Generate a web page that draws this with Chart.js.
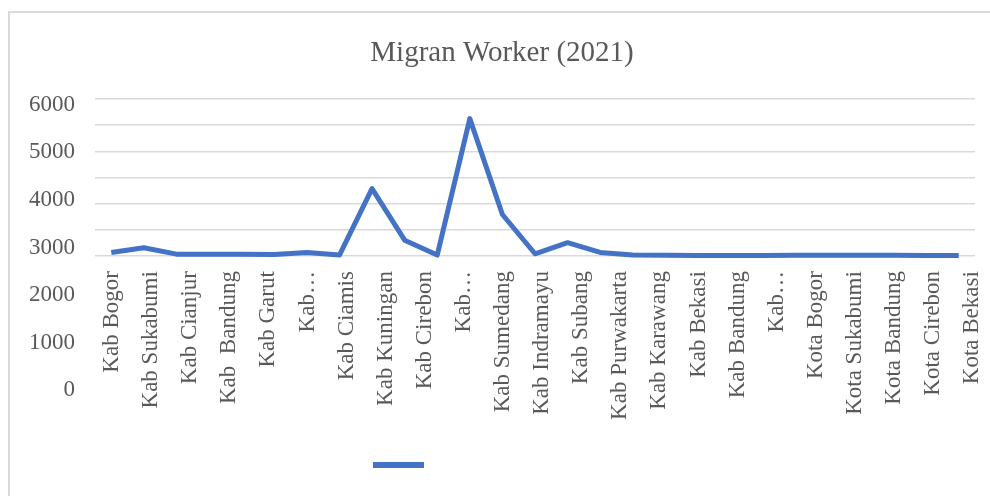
<!DOCTYPE html>
<html>
<head>
<meta charset="utf-8">
<title>Migran Worker (2021)</title>
<script src="https://cdn.jsdelivr.net/npm/chart.js@4.4.1/dist/chart.umd.min.js"></script>
<style>
  html, body { margin: 0; padding: 0; background: #fff; overflow: hidden; }
  #wrap { position: relative; width: 990px; height: 496px; overflow: hidden; }
  #frame { position: absolute; left: 8px; top: 11px; width: 1200px; height: 700px; border: 2px solid #d9d9d9; }
  #c { position: absolute; left: 0; top: 0; }
</style>
</head>
<body>
<div id="wrap">
  <div id="frame"></div>
  <canvas id="c" width="990" height="496"></canvas>
</div>
<script>
// Kabupaten / Kota Jawa Barat (urutan data)
const categories = [
  "Kab Bogor", "Kab Sukabumi", "Kab Cianjur", "Kab Bandung", "Kab Garut",
  "Kab Tasikmalaya", "Kab Ciamis", "Kab Kuningan", "Kab Cirebon", "Kab Majalengka",
  "Kab Sumedang", "Kab Indramayu", "Kab Subang", "Kab Purwakarta", "Kab Karawang",
  "Kab Bekasi", "Kab Bandung Barat", "Kab Pangandaran", "Kota Bogor", "Kota Sukabumi",
  "Kota Bandung", "Kota Cirebon", "Kota Bekasi", "Kota Depok", "Kota Cimahi",
  "Kota Tasikmalaya", "Kota Banjar"
];

// label sumbu x seperti yang terlihat di gambar
const tickLabels = [
  "Kab Bogor", "Kab Sukabumi", "Kab Cianjur", "Kab  Bandung", "Kab Garut",
  "Kab\u2026", "Kab Ciamis", "Kab Kuningan", "Kab Cirebon", "Kab\u2026",
  "Kab Sumedang", "Kab Indramayu", "Kab Subang", "Kab Purwakarta", "Kab Karawang",
  "Kab Bekasi", "Kab Bandung", "Kab\u2026", "Kota Bogor", "Kota Sukabumi",
  "Kota Bandung", "Kota Cirebon", "Kota Bekasi"
];

const workers = [
  140, 320, 75, 75, 75,
  60, 135, 40, 2580, 610,
  40, 5250, 1590, 90, 515,
  140, 45, 35, 25, 20,
  20, 30, 35, 35, 30,
  20, 20
];

const gridTicks = [0, 1000, 2000, 3000, 4000, 5000, 6000];
const yTickLabels = [0, 1000, 2000, 3000, 4000, 5000, 6000];

const lineColor = "#4472C4";
const textColor = "#595959";

Chart.defaults.font.family = "'Liberation Serif', 'Times New Roman', serif";
Chart.defaults.color = textColor;

new Chart(document.getElementById("c"), {
  type: "line",
  data: {
    labels: categories,
    datasets: [
      {
        label: "\u00a0".repeat(34), // nama seri kosong
        data: workers,
        borderColor: lineColor,
        backgroundColor: lineColor,
        borderWidth: 5,
        borderJoinStyle: "round",
        pointRadius: 0,
        tension: 0,
        xAxisID: "x",
        yAxisID: "y",
      },
    ],
  },
  options: {
    responsive: false,
    animation: false,
    devicePixelRatio: 1,
    layout: { padding: { top: 0, left: 29, right: 15, bottom: 9.6 } },
    plugins: {
      title: {
        display: true,
        text: "Migran Worker (2021)",
        color: textColor,
        font: { size: 29, weight: "normal" },
        padding: { top: 36, bottom: 28.2 },
      },
      legend: {
        display: true,
        position: "bottom",
        labels: {
          boxWidth: 51,
          boxHeight: 6,
          padding: 63.2,
          font: { size: 23 },
          generateLabels: (chart) =>
            Chart.defaults.plugins.legend.labels
              .generateLabels(chart)
              .map((l) => ({ ...l, lineWidth: 0, fillStyle: lineColor })),
        },
      },
      tooltip: { enabled: false },
    },
    scales: {
      x: {
        type: "category",
        offset: true,
        display: false,
      },
      y: {
        type: "linear",
        position: "left",
        min: -5120,
        max: 6000,
        afterBuildTicks: (s) => {
          s.ticks = gridTicks.map((v) => ({ value: v }));
        },
        afterFit: (s) => {
          s.width = 0;
        },
        ticks: { display: false },
        grid: { color: "#d9d9d9", lineWidth: 1.5, drawTicks: false },
        border: { display: false },
      },
      yl: {
        type: "linear",
        axis: "y",
        position: "left",
        min: 0,
        max: 6120,
        afterBuildTicks: (s) => {
          s.ticks = yTickLabels.map((v) => ({ value: v }));
        },
        afterFit: (s) => {
          s.width = 66;
        },
        ticks: {
          padding: 20,
          color: textColor,
          font: { size: 23 },
          callback: (v) => String(v),
        },
        grid: { display: false, drawTicks: false },
        border: { display: false },
      },
      xl: {
        type: "linear",
        axis: "x",
        position: { y: 0 },
        min: -0.435,
        max: 22.07,
        afterBuildTicks: (s) => {
          s.ticks = tickLabels.map((_, i) => ({ value: i }));
        },
        afterFit: (s) => {
          // label miring tidak boleh menggeser area plot
          s.paddingLeft = 0;
          s.paddingRight = 0;
        },
        ticks: {
          autoSkip: false,
          minRotation: 90,
          maxRotation: 90,
          padding: 15,
          color: textColor,
          font: { size: 23 },
          callback: (v) => tickLabels[v],
        },
        grid: { display: false, drawTicks: false },
        border: { display: false },
      },
    },
  },
});
</script>
</body>
</html>
